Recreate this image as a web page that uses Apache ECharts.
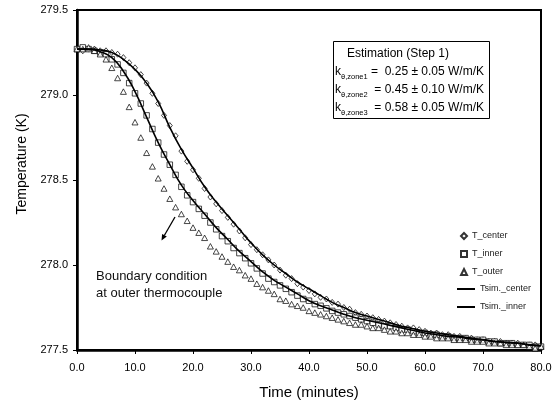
<!DOCTYPE html>
<html>
<head>
<meta charset="utf-8">
<title>Temperature vs time</title>
<script src="https://cdn.jsdelivr.net/npm/echarts@6/dist/echarts.min.js"></script>
<style>
  html, body { margin: 0; padding: 0; background: #fff; }
  #chart { width: 556px; height: 409px; }
</style>
</head>
<body>
<div id="chart"></div>
<script>
// measured temperatures (K), one reading per minute
const time = [0, 1, 2, 3, 4, 5, 6, 7, 8, 9, 10, 11, 12, 13, 14, 15, 16, 17, 18, 19, 20,
  21, 22, 23, 24, 25, 26, 27, 28, 29, 30, 31, 32, 33, 34, 35, 36, 37, 38, 39, 40,
  41, 42, 43, 44, 45, 46, 47, 48, 49, 50, 51, 52, 53, 54, 55, 56, 57, 58, 59, 60,
  61, 62, 63, 64, 65, 66, 67, 68, 69, 70, 71, 72, 73, 74, 75, 76, 77, 78, 79, 80]

const tCenter = [279.27, 279.26, 279.27, 279.27, 279.26, 279.26, 279.25, 279.24, 279.22, 279.19, 279.16,
  279.12, 279.07, 279.01, 278.95, 278.88, 278.82, 278.76, 278.67, 278.61, 278.56,
  278.51, 278.45, 278.40, 278.36, 278.32, 278.28, 278.24, 278.20, 278.16, 278.12,
  278.09, 278.06, 278.03, 278.00, 277.97, 277.94, 277.92, 277.89, 277.87, 277.85,
  277.83, 277.81, 277.80, 277.78, 277.77, 277.75, 277.74, 277.72, 277.71, 277.70,
  277.69, 277.68, 277.67, 277.66, 277.65, 277.64, 277.63, 277.63, 277.62, 277.61,
  277.60, 277.60, 277.59, 277.59, 277.58, 277.58, 277.57, 277.57, 277.56, 277.56,
  277.55, 277.55, 277.55, 277.54, 277.54, 277.54, 277.53, 277.53, 277.53, 277.52]

const tInner = [279.27, 279.28, 279.27, 279.26, 279.25, 279.24, 279.21, 279.18, 279.13, 279.07, 279.01,
  278.95, 278.88, 278.80, 278.72, 278.65, 278.59, 278.53, 278.46, 278.41, 278.37,
  278.33, 278.29, 278.25, 278.21, 278.17, 278.14, 278.10, 278.07, 278.04, 278.01,
  277.98, 277.95, 277.92, 277.90, 277.88, 277.86, 277.84, 277.82, 277.80, 277.79,
  277.77, 277.76, 277.745, 277.73, 277.72, 277.71, 277.70, 277.69, 277.68, 277.67,
  277.66, 277.65, 277.64, 277.64, 277.63, 277.62, 277.62, 277.61, 277.60, 277.60,
  277.59, 277.59, 277.58, 277.58, 277.57, 277.57, 277.57, 277.56, 277.56, 277.56,
  277.55, 277.55, 277.54, 277.54, 277.54, 277.53, 277.53, 277.53, 277.52, 277.52]

const tOuter = [279.27, 279.27, 279.28, 279.26, 279.24, 279.21, 279.16, 279.10, 279.02, 278.93, 278.84,
  278.75, 278.66, 278.58, 278.51, 278.45, 278.39, 278.34, 278.30, 278.26, 278.22,
  278.19, 278.16, 278.11, 278.08, 278.05, 278.02, 277.99, 277.97, 277.94, 277.92,
  277.89, 277.87, 277.85, 277.83, 277.80, 277.79, 277.77, 277.76, 277.75, 277.73,
  277.72, 277.71, 277.70, 277.69, 277.68, 277.67, 277.66, 277.65, 277.65, 277.64,
  277.63, 277.63, 277.62, 277.61, 277.61, 277.60, 277.60, 277.59, 277.59, 277.58,
  277.58, 277.57, 277.57, 277.57, 277.56, 277.56, 277.56, 277.55, 277.55, 277.55,
  277.54, 277.54, 277.54, 277.53, 277.53, 277.53, 277.53, 277.52, 277.51, 277.52]

// simulated curves, every 2 minutes
const simTime = [0, 2, 4, 6, 8, 10, 12, 14, 16, 18, 20, 22, 24, 26, 28, 30, 32, 34, 36, 38, 40,
  42, 44, 46, 48, 50, 52, 54, 56, 58, 60, 62, 64, 66, 68, 70, 72, 74, 76, 78, 80]

const simCenter = [279.27, 279.27, 279.265, 279.25, 279.21, 279.15, 279.07, 278.96, 278.81, 278.68, 278.57,
  278.46, 278.37, 278.29, 278.21, 278.13, 278.06, 278.00, 277.95, 277.90, 277.86,
  277.82, 277.78, 277.75, 277.72, 277.70, 277.68, 277.66, 277.64, 277.625, 277.61,
  277.60, 277.59, 277.58, 277.57, 277.56, 277.55, 277.545, 277.54, 277.53, 277.525]

const simInner = [279.27, 279.27, 279.255, 279.22, 279.14, 279.02, 278.87, 278.72, 278.59, 278.47, 278.38,
  278.30, 278.22, 278.15, 278.08, 278.02, 277.96, 277.91, 277.87, 277.83, 277.79,
  277.76, 277.735, 277.71, 277.69, 277.675, 277.66, 277.645, 277.63, 277.615, 277.60,
  277.59, 277.58, 277.575, 277.565, 277.56, 277.55, 277.545, 277.54, 277.53, 277.525]

const xTicks = { min: 0, max: 80, step: 10 }
const yTicks = { min: 277.5, max: 279.5, step: 0.5 }

const FONT = 'Liberation Sans, Arial, sans-serif'

function pairs(xs, ys) {
  return xs.map((x, i) => [x, ys[i]])
}

function markerSeries(name, data, symbol, size) {
  return {
    name: name,
    type: 'scatter',
    data: data,
    symbol: symbol,
    symbolSize: size,
    itemStyle: {
      color: '#fff',
      borderColor: '#000',
      borderWidth: 0.9
    },
    z: 2
  }
}

function simSeries(name, data) {
  return {
    name: name,
    type: 'line',
    data: data,
    smooth: true,
    symbol: 'none',
    lineStyle: { color: '#000', width: 1.6 },
    itemStyle: { color: '#000' },
    z: 3
  }
}

let myChart = echarts.init(document.getElementById('chart'))

let option = {
  animation: false,
  textStyle: { fontFamily: FONT },
  grid: {
    left: 77,
    right: 15,
    top: 10,
    bottom: 59,
    show: true,
    borderColor: '#000',
    borderWidth: 2
  },
  legend: [
    {
      orient: 'vertical',
      left: 455,
      top: 225,
      itemWidth: 6,
      itemHeight: 6,
      itemGap: 6,
      itemTextGap: 9,
      data: ['T_center', 'T_inner', 'T_outer'],
      textStyle: { fontSize: 9, color: '#222', lineHeight: 12, fontFamily: FONT }
    },
    {
      orient: 'vertical',
      left: 452,
      top: 278,
      itemWidth: 18,
      itemHeight: 2,
      itemGap: 6,
      itemTextGap: 1,
      // plain line sample, no symbol
      icon: 'path://M0,0H18V2H0Z',
      data: ['Tsim._center', 'Tsim._inner'],
      textStyle: { fontSize: 9, color: '#222', lineHeight: 12, fontFamily: FONT }
    }
  ],
  xAxis: {
    type: 'value',
    min: xTicks.min,
    max: xTicks.max,
    interval: xTicks.step,
    name: 'Time (minutes)',
    nameLocation: 'middle',
    nameGap: 35,
    nameTextStyle: { fontSize: 15, color: '#000', fontFamily: FONT },
    axisLine: { show: true, onZero: false, lineStyle: { color: '#000', width: 2.5 } },
    axisTick: { show: true, inside: false, length: 4, lineStyle: { color: '#000', width: 1 } },
    axisLabel: {
      color: '#000',
      fontSize: 11,
      margin: 12,
      formatter: v => v.toFixed(1)
    },
    splitLine: { show: false }
  },
  yAxis: {
    type: 'value',
    min: yTicks.min,
    max: yTicks.max,
    interval: yTicks.step,
    name: 'Temperature (K)',
    nameLocation: 'middle',
    nameGap: 46,
    nameTextStyle: { fontSize: 14, color: '#000', fontFamily: FONT, padding: [0, 0, 0, 32] },
    axisLine: { show: true, onZero: false, lineStyle: { color: '#000', width: 2.5 } },
    axisTick: { show: true, inside: false, length: 4, lineStyle: { color: '#000', width: 1 } },
    axisLabel: {
      color: '#000',
      fontSize: 11,
      margin: 9,
      formatter: v => v.toFixed(1)
    },
    splitLine: { show: false }
  },
  graphic: [
    // parameter box
    {
      type: 'rect',
      left: 333,
      top: 41,
      shape: { width: 156, height: 77 },
      style: { fill: '#fff', stroke: '#000', lineWidth: 1 },
      z: 10
    },
    {
      type: 'text',
      left: 347,
      top: 48,
      style: { text: 'Estimation (Step 1)', font: '12px ' + FONT, fill: '#000' },
      z: 11
    },
    {
      type: 'text',
      left: 335,
      top: 66,
      style: {
        text: '{k|k}{s|θ,zone1}{v| =  0.25 ± 0.05 W/m/K}\n{k|k}{s|θ,zone2}{v|  = 0.45 ± 0.10 W/m/K}\n{k|k}{s|θ,zone3}{v|  = 0.58 ± 0.05 W/m/K}',
        fill: '#000',
        rich: {
          k: { fontSize: 12, lineHeight: 18, fontFamily: FONT, verticalAlign: 'middle' },
          s: { fontSize: 7.5, lineHeight: 9, fontFamily: FONT, verticalAlign: 'bottom' },
          v: { fontSize: 12, lineHeight: 18, fontFamily: FONT, verticalAlign: 'middle' }
        }
      },
      z: 11
    },
    // boundary note and arrow
    {
      type: 'text',
      left: 96,
      top: 268,
      style: {
        text: 'Boundary condition\nat outer thermocouple',
        font: '13px ' + FONT,
        lineHeight: 17,
        fill: '#111'
      },
      z: 11
    },
    {
      type: 'line',
      shape: { x1: 175, y1: 217, x2: 164.3, y2: 235.5 },
      style: { stroke: '#000', lineWidth: 1.3 },
      z: 11
    },
    {
      type: 'polygon',
      shape: { points: [[161.5, 240.5], [166.8, 236.6], [162.1, 233.9]] },
      style: { fill: '#000' },
      z: 11
    }
  ],
  series: [
    markerSeries('T_center', pairs(time, tCenter), 'diamond', [5, 6]),
    markerSeries('T_inner', pairs(time, tInner), 'rect', 5.5),
    markerSeries('T_outer', pairs(time, tOuter), 'triangle', [6, 5.5]),
    simSeries('Tsim._center', pairs(simTime, simCenter)),
    simSeries('Tsim._inner', pairs(simTime, simInner))
  ]
}

myChart.setOption(option)
window.addEventListener('resize', function() {
  myChart.resize()
})
</script>
</body>
</html>
